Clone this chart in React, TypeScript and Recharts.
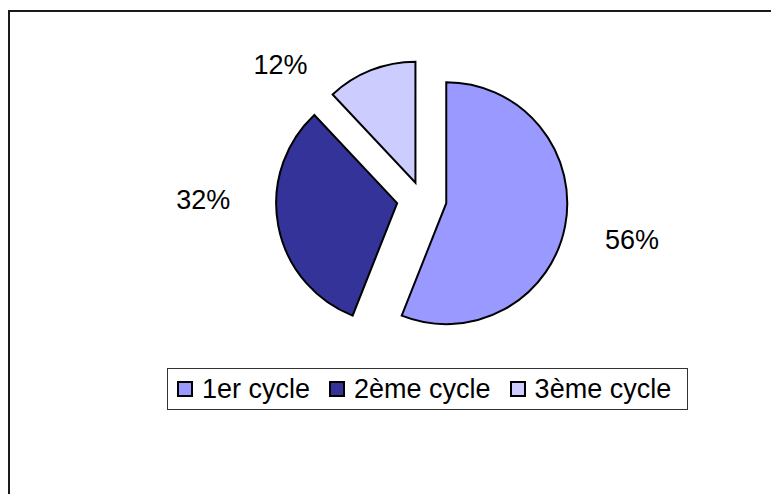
import { PieChart, Pie, Cell, Sector, Legend } from 'recharts';

const categories = ['1er cycle', '2ème cycle', '3ème cycle'];
const shares = [56, 32, 12];
const colors = ['#9999FF', '#333399', '#CCCCFF'];

// per-slice explode distance and label placement tweaks (Excel "best fit")
const EXPLODE = [25, 25, 17];
const LABEL_SHIFT = [0, -12, 27];
const LABEL_RADIUS = [189, 194, 180];

const RAD = Math.PI / 180;
const FONT = '"Liberation Sans", Arial, sans-serif';

const data = categories.map((name, i) => ({ name, value: shares[i], fill: colors[i] }));

const sliceIndex = (props: any) => {
  const name = props.payload?.name ?? props.name;
  const i = categories.indexOf(name);
  return i >= 0 ? i : props.index ?? 0;
};

const explodedCenter = (props: any, i: number) => {
  const d = EXPLODE[i] ?? 0;
  return {
    x: props.cx + d * Math.cos(props.midAngle * RAD),
    y: props.cy - d * Math.sin(props.midAngle * RAD),
  };
};

const ExplodedSlice = (props: any) => {
  const i = sliceIndex(props);
  const c = explodedCenter(props, i);
  return (
    <Sector
      {...props}
      cx={c.x}
      cy={c.y}
      fill={colors[i]}
      stroke="#000"
      strokeWidth={2}
      strokeLinejoin="miter"
    />
  );
};

const renderLabel = (props: any) => {
  const i = sliceIndex(props);
  const c = explodedCenter(props, i);
  const a = (props.midAngle + LABEL_SHIFT[i]) * RAD;
  const x = c.x + LABEL_RADIUS[i] * Math.cos(a);
  const y = c.y - LABEL_RADIUS[i] * Math.sin(a);
  return (
    <text x={x} y={y} dy={10} textAnchor="middle" fontSize={27} fontFamily={FONT} fill="#000">
      {`${Math.round(props.percent * 100)}%`}
    </text>
  );
};

const renderLegend = () => (
  <div
    style={{
      display: 'flex',
      alignItems: 'center',
      height: 42,
      boxSizing: 'border-box',
      border: '1px solid #333',
      padding: '0 16px 0 9px',
      background: '#fff',
      fontFamily: FONT,
      fontSize: 27,
      lineHeight: 1,
      color: '#000',
      whiteSpace: 'nowrap',
    }}
  >
    {categories.map((c, i) => (
      <span
        key={c}
        style={{ display: 'flex', alignItems: 'center', marginRight: i < categories.length - 1 ? 19 : 0 }}
      >
        <span
          style={{
            width: 16,
            height: 16,
            boxSizing: 'border-box',
            border: '2px solid #000',
            background: colors[i],
            marginRight: 9,
          }}
        />
        {c}
      </span>
    ))}
  </div>
);

export default function App() {
  return (
    <div style={{ position: 'relative', height: 486 }}>
      <div
        style={{
          position: 'absolute',
          left: 0,
          top: 2,
          width: 771,
          height: 492,
          boxSizing: 'border-box',
          borderLeft: '2px solid #1a1a1a',
          borderTop: '2px solid #1a1a1a',
        }}
      />
      <div style={{ position: 'absolute', left: 0, top: 0 }}>
        <PieChart width={771} height={486} margin={{ top: 0, right: 0, bottom: 0, left: 0 }}>
          <Pie
            data={data}
            dataKey="value"
            nameKey="name"
            cx={413.7}
            cy={190.5}
            outerRadius={121}
            startAngle={90}
            endAngle={-270}
            stroke="#000"
            strokeWidth={2}
            shape={ExplodedSlice}
            label={renderLabel}
            labelLine={false}
            isAnimationActive={false}
          >
            {data.map((d) => (
              <Cell key={d.name} fill={d.fill} />
            ))}
          </Pie>
          <Legend
            content={renderLegend}
            wrapperStyle={{ left: 159, top: 360, bottom: 'auto', right: 'auto', width: 'auto' }}
          />
        </PieChart>
      </div>
    </div>
  );
}
